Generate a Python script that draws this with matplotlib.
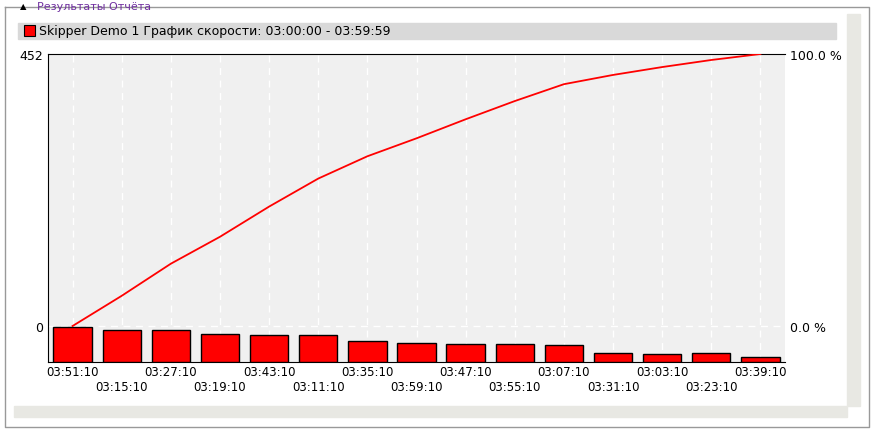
import matplotlib
matplotlib.use("Agg")
import matplotlib.pyplot as plt
from matplotlib.patches import Rectangle
from matplotlib.lines import Line2D

labels = ["03:51:10","03:15:10","03:27:10","03:19:10","03:43:10","03:11:10","03:35:10","03:59:10",
          "03:47:10","03:55:10","03:07:10","03:31:10","03:03:10","03:23:10","03:39:10"]
bar_values = [35,32,32,28,27,27,21,19,18,18,17,9,8,9,5]
cum_pct = [0,11.1,22.9,32.8,43.9,54.2,62.4,69.0,76.0,82.7,88.9,92.3,95.2,97.8,100.0]

W, H = 874, 435
fig = plt.figure(figsize=(W/100, H/100), dpi=100)
fig.patch.set_facecolor("white")
def fx(x): return x / W
def fy(y): return 1 - y / H

# outer frame
fig.add_artist(Line2D([fx(5), fx(5), fx(869), fx(869), fx(5), fx(5)],
                      [fy(8), fy(428), fy(428), fy(8), fy(8), fy(8)], color="#999999", lw=1))
fig.add_artist(Rectangle((fx(14), fy(15)), fx(106), fy(0)-fy(15), color="white"))
fig.text(fx(20), fy(7), "▲", fontsize=6, color="black", va="center")
fig.text(fx(37), fy(7), "Результаты Отчёта", fontsize=8, color="#7030a0", va="center")
# scrollbars
fig.add_artist(Rectangle((fx(847), fy(407)), fx(13), fy(15)-fy(407), color="#e8e8e3"))
fig.add_artist(Rectangle((fx(14), fy(418)), fx(833), fy(407)-fy(418), color="#e8e8e3"))
# header bar
fig.add_artist(Rectangle((fx(18), fy(40)), fx(818), fy(24)-fy(40), color="#d9d9d9"))
fig.add_artist(Rectangle((fx(24), fy(37)), fx(11), fy(26)-fy(37), facecolor="red", edgecolor="black", lw=0.8))
fig.text(fx(39), fy(32), "Skipper Demo 1 График скорости: 03:00:00 - 03:59:59", fontsize=9, va="center")

x0, x1, yt, yb = 48, 785, 55, 363
rect = [fx(x0), fy(yb), fx(x1)-fx(x0), fy(yt)-fy(yb)]
ax = fig.add_axes(rect)
ax.set_facecolor("#f0f0f0")
n = len(labels)
xs = list(range(n))
ax.set_xlim(-0.5, n - 0.5)
ax.set_ylim(-(yb-327)/(327-yt)*452, 452)
ax.set_yticks([0, 452])
ax.tick_params(axis="y", length=0, labelsize=9)
ax.set_xticks(xs)
ax.set_xticklabels([l if i % 2 == 0 else "\n" + l for i, l in enumerate(labels)], fontsize=8.5)
ax.tick_params(axis="x", length=0, pad=2)
for i in xs:
    ax.axvline(i, color="white", ls=(0, (5, 4)), lw=1)
ax.axhline(0, color="white", ls=(0, (5, 4)), lw=1)
for s in ["top", "left", "bottom"]:
    ax.spines[s].set_color("black")
ax.spines["right"].set_visible(False)

axb = ax.twinx()
axb.set_ylim(0, yb - yt)
axb.bar(xs, bar_values, width=0.78, color="red", edgecolor="black", lw=1)
axb.set_yticks([])
for s in axb.spines.values():
    s.set_visible(False)

axr = ax.twinx()
axr.set_ylim(-(yb-327)/(327-yt)*100, 100)
axr.plot(xs, cum_pct, color="red", lw=1.3)
axr.set_yticks([0, 100])
axr.set_yticklabels(["0.0 %", "100.0 %"], fontsize=9)
axr.tick_params(axis="y", length=0)
for s in axr.spines.values():
    s.set_visible(False)

fig.savefig("out.png", dpi=100)
